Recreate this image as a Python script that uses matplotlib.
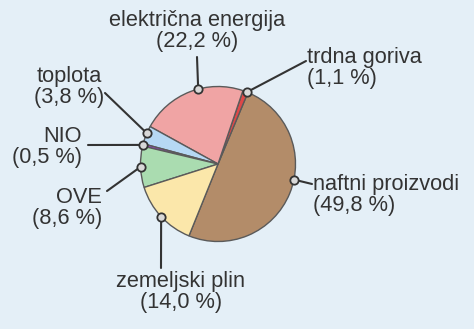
import numpy as np
import matplotlib
matplotlib.use("Agg")
import matplotlib.pyplot as plt

# data (counterclockwise order starting at the bottom-left)
categories = ["naftni proizvodi", "trdna goriva", "električna energija",
              "toplota", "NIO", "OVE", "zemeljski plin"]
values = [49.8, 1.1, 22.2, 3.8, 0.5, 8.6, 14.0]
value_labels = ["49,8", "1,1", "22,2", "3,8", "0,5", "8,6", "14,0"]

colors = ["#b38c69", "#de4848", "#f0a4a4", "#b6d8f4", "#9a3cc8", "#aadcb0", "#fbe7aa"]

W, H = 474, 329
BG = "#e4eff7"
fig = plt.figure(figsize=(W / 100, H / 100), dpi=100, facecolor=BG)
ax = fig.add_axes([0, 0, 1, 1], facecolor=BG)

def Y(y):
    return H - y

cx, cy, r = 218, Y(164), 77.5
start = 248
wedges, _ = ax.pie(values, colors=colors, startangle=start, counterclock=True,
                   center=(cx, cy), radius=r, frame=True,
                   wedgeprops=dict(edgecolor="#5a5a5a", linewidth=1.0))
ax.set_xlim(0, W)
ax.set_ylim(0, H)
ax.set_aspect("equal")
ax.axis("off")

# layout: where along each wedge the marker sits, label anchor, line end
marker_frac = [0.56, 0.2, 0.42, 0.4, 0.5, 0.5, 0.5]
label_pos = [(313, 195, "left"), (307, 68, "left"), (197, 31, "center"),
             (69, 87, "center"), (82, 147, "right"), (102, 208, "right"),
             (181, 292, "center")]
line_end = [(312, 184), (306, 61), (197, 57), (105, 93), (88, 145),
            (107, 191), (161, 268)]

txtcol = "#333333"
for i, w in enumerate(wedges):
    th = np.deg2rad(w.theta1 + marker_frac[i] * (w.theta2 - w.theta1))
    mx, my = cx + r * np.cos(th), cy + r * np.sin(th)
    ex, ey = line_end[i]
    ax.plot([mx, ex], [my, Y(ey)], color="#333333", lw=1.5, zorder=5,
            solid_capstyle="round")
    ax.plot(mx, my, "o", ms=6, mfc="#d8d8d8", mec="#333333", mew=1.3, zorder=6)
    lx, ly, ha = label_pos[i]
    ax.text(lx, Y(ly), f"{categories[i]}\n({value_labels[i]} %)", ha=ha, va="center",
            fontsize=15.7, color=txtcol, family="Liberation Sans", linespacing=1.05,
            zorder=7)

fig.savefig("out.png", dpi=100, facecolor=BG)
